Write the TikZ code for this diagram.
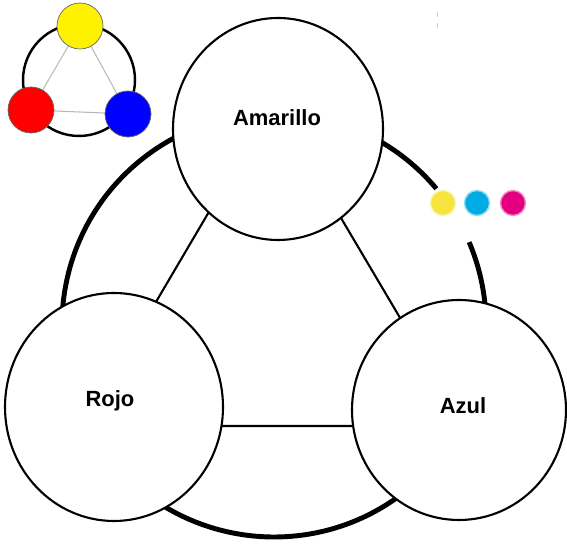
\documentclass[tikz,border=0pt]{standalone}
\usepackage{fontspec}
\setmainfont{Liberation Sans}
\usepackage{tikz}
\usetikzlibrary{positioning}
\usetikzlibrary{calc,shapes.geometric}

\definecolor{dotYellow}{RGB}{246,229,62}
\definecolor{dotCyan}{RGB}{0,171,228}
\definecolor{dotMagenta}{RGB}{226,0,128}

\tikzset{
	colorcircle/.style={ellipse, draw=black, line width=1.2pt, fill=white, inner sep=0pt},
	colorlabel/.style={font=\bfseries\fontsize{12.5}{14}\selectfont, inner sep=0pt},
	outerring/.style={line width=2.8pt},
	triangleline/.style={line width=1.2pt},
	miniring/.style={line width=1.4pt},
	miniline/.style={line width=0.6pt, draw=gray!55},
	minidot/.style={circle, minimum size=0.92cm, inner sep=0pt, draw=black!60, line width=0.4pt},
	inkdot/.style={circle, minimum size=0.50cm, inner sep=0pt, line width=0.8pt},
}

\begin{document}
\begin{tikzpicture}

	% Proper size --- Bounding box
	\useasboundingbox (0.00cm, 0.00cm) rectangle (11.34cm, 10.92cm);

	% ------------------------------------------------
	% SMALL ICON (TOP LEFT)
	% ------------------------------------------------
	\coordinate (M) at (1.58cm, 9.32cm);
	\coordinate (MY) at (1.60cm, 10.40cm);
	\coordinate (MR) at (0.62cm, 8.72cm);
	\coordinate (MB) at (2.56cm, 8.64cm);

	\draw[miniring] (M) circle (1.12cm);
	\draw[miniline] (MY) -- (MR) -- (MB) -- cycle;

	\node[minidot, fill=yellow] (miniYellow) at (MY) {};
	\node[minidot, fill=red]    (miniRed)    at (MR) {};
	\node[minidot, fill=blue]   (miniBlue)   at (MB) {};

	% ------------------------------------------------
	% BIG RING + INNER TRIANGLE
	% ------------------------------------------------
	\coordinate (C) at (5.48cm, 4.42cm);

	% ring is open where the ink dots sit (between 23 and 40 degrees)
	\draw[outerring] ($(C)+(40:4.24cm)$) arc[start angle=40, end angle=383, radius=4.24cm];

	\coordinate (T0) at (5.46cm, 8.86cm);
	\coordinate (T1) at (1.66cm, 2.40cm);
	\coordinate (T2) at (9.28cm, 2.40cm);

	\draw[triangleline] (T0) -- (T1) -- (T2) -- cycle;

	% ------------------------------------------------
	% PRIMARY COLOURS
	% ------------------------------------------------
	\node[colorcircle, minimum width=4.20cm, minimum height=4.44cm] (amarillo) at (5.56cm, 8.34cm) {};
	\node[colorcircle, minimum width=4.36cm, minimum height=4.56cm] (rojo)     at (2.28cm, 2.78cm) {};
	\node[colorcircle, minimum width=4.28cm, minimum height=4.40cm] (azul)     at (9.18cm, 2.72cm) {};

	\node[colorlabel] (amarilloText) at (5.54cm, 8.57cm) {Amarillo};
	\node[colorlabel] (rojoText)     at (2.20cm, 2.90cm) {Rojo};
	\node[colorlabel] (azulText)     at (9.26cm, 2.80cm) {Azul};

	% ------------------------------------------------
	% INK DOTS
	% ------------------------------------------------
	\node[inkdot, fill=dotYellow, draw=dotYellow!45]    (inkYellow)  at (8.86cm, 6.86cm) {};
	\node[inkdot, fill=dotCyan, draw=dotCyan!45]        (inkCyan)    at (9.54cm, 6.86cm) {};
	\node[inkdot, fill=dotMagenta, draw=dotMagenta!45]  (inkMagenta) at (10.26cm, 6.86cm) {};

	% faint mark top right
	\draw[gray!35, line width=0.3pt, dashed] (8.74cm, 10.68cm) -- (8.74cm, 10.28cm);

\end{tikzpicture}
\end{document}
